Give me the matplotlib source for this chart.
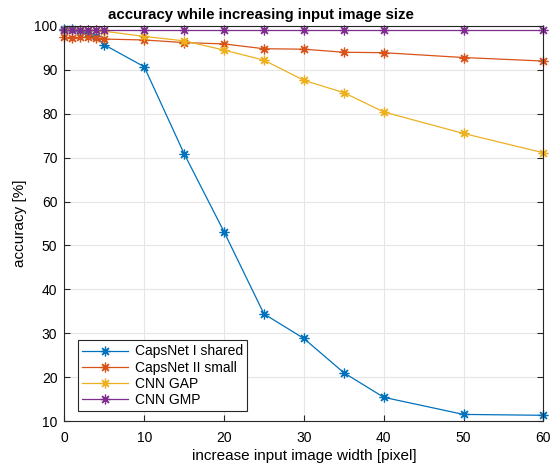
import matplotlib.pyplot as plt

plt.rcParams["font.family"] = ["Liberation Sans", "DejaVu Sans"]

# input image width increase [pixel]
x = [0, 1, 2, 3, 4, 5, 10, 15, 20, 25, 30, 35, 40, 50, 60]

capsnet_shared = [99.4, 99.2, 98.9, 98.3, 97.6, 95.7, 90.7, 70.9, 53.1, 34.4, 28.8, 21.0, 15.4, 11.5, 11.3]
capsnet_small = [97.4, 97.3, 97.4, 97.4, 97.3, 97.0, 96.8, 96.2, 95.9, 94.8, 94.7, 94.0, 93.9, 92.8, 92.0]
cnn_gap = [99.1, 99.1, 99.0, 99.0, 99.0, 98.8, 97.6, 96.6, 94.5, 92.2, 87.6, 84.8, 80.4, 75.5, 71.1]
cnn_gmp = [99.0, 99.0, 99.0, 99.0, 99.0, 99.0, 99.0, 99.0, 99.0, 99.0, 99.0, 99.0, 99.0, 99.0, 99.0]

labels = ["CapsNet I shared", "CapsNet II small", "CNN GAP", "CNN GMP"]
colors = ["#0072BD", "#D95319", "#EDB120", "#7E2F8E"]

fig = plt.figure(figsize=(5.5, 4.67), dpi=100)
ax = fig.add_axes([0.117, 0.0985, 0.871, 0.846])

for series, label, color in zip([capsnet_shared, capsnet_small, cnn_gap, cnn_gmp], labels, colors):
    ax.plot(x, series, color=color, lw=0.9, marker=(8, 2, 0), markersize=7,
            markeredgewidth=0.9, label=label, clip_on=False)

ax.set_xlim(0, 60)
ax.set_ylim(10, 100)
ax.set_xticks(range(0, 61, 10))
ax.set_yticks(range(10, 101, 10))
ax.grid(True, color="#e6e6e6", lw=0.8)
ax.set_axisbelow(True)
ax.tick_params(direction="in", top=True, right=True, labelsize=10, length=4, color="#262626")
ax.tick_params(axis="x", pad=7)
ax.tick_params(axis="y", pad=5)
for s in ax.spines.values():
    s.set_color("#262626")
    s.set_linewidth(0.8)

# the title sits left of the axes centre in the original
ax.set_title("accuracy while increasing input image size", fontsize=10.8, fontweight="bold",
             x=0.411, pad=5)
ax.set_xlabel("increase input image width [pixel]", fontsize=11, labelpad=3)
ax.set_ylabel("accuracy [%]", fontsize=11, labelpad=5)

leg = ax.legend(loc="lower left", bbox_to_anchor=(0.02, 0.015), fontsize=10, fancybox=False,
                edgecolor="#262626", framealpha=1, borderpad=0.3, labelspacing=0.15,
                handlelength=3.3, handletextpad=0.5, borderaxespad=0.3)
leg.get_frame().set_linewidth(0.8)

fig.savefig("out.png", dpi=100)
